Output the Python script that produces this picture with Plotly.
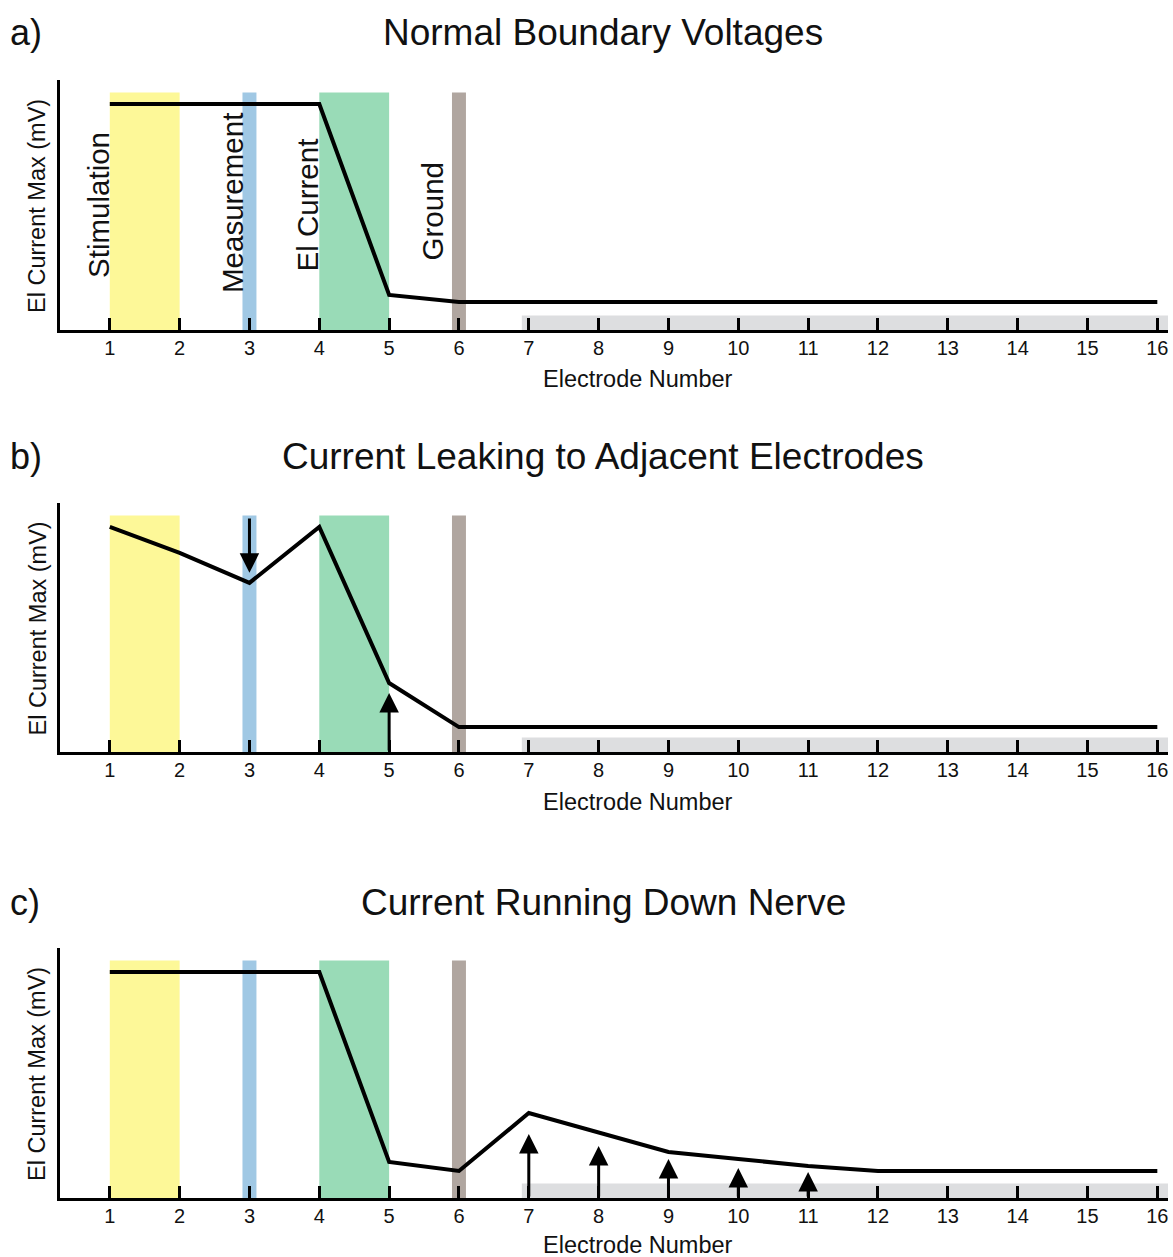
import plotly.graph_objects as go

# Electrode numbers along the cuff
electrodes = list(range(1, 17))
tick_labels = [str(e) for e in electrodes]

# Electrode roles
stim_electrodes = [1, 2]
meas_electrodes = [3]
ei_electrodes = [4, 5]
ground_electrodes = [6]
nerve_electrodes = [7, 16]

# Boundary voltage profiles (normalised to panel height)
normal_v = [0.904, 0.904, 0.904, 0.904, 0.14, 0.112, 0.112, 0.112,
            0.112, 0.112, 0.112, 0.112, 0.112, 0.112, 0.112, 0.112]
leak_v = [0.904, 0.80, 0.679, 0.904, 0.277, 0.10, 0.10, 0.10,
          0.10, 0.10, 0.10, 0.10, 0.10, 0.10, 0.10, 0.10]
nerve_v = [0.904, 0.904, 0.904, 0.904, 0.144, 0.108, 0.34, 0.264,
           0.184, 0.156, 0.128, 0.108, 0.108, 0.108, 0.108, 0.108]

# Arrow markers: (electrode, tail value, tip value)
leak_arrows_x = [3, 5]
leak_arrows_tail = [0.944, 0.0]
leak_arrows_tip = [0.72, 0.237]
nerve_arrows_x = [7, 8, 9, 10, 11]
nerve_arrows_tip = [0.256, 0.208, 0.156, 0.12, 0.104]

titles = ["Normal Boundary Voltages", "Current Leaking to Adjacent Electrodes",
          "Current Running Down Nerve"]
panel_tags = ["a)", "b)", "c)"]
role_labels = ["Stimulation", "Measurement", "El Current", "Ground"]
role_label_x = [0.83, 2.75, 3.83, 5.62]
role_label_y = [0.5, 0.508, 0.5, 0.476]

W, H = 1173, 1257
FONT = "Liberation Sans, Arial, sans-serif"
TXT = "#111111"

YELLOW = "rgb(253,248,152)"
BLUE = "rgb(160,200,228)"
GREEN = "rgb(153,219,183)"
TAUPE = "rgb(176,166,160)"
STRIP = "rgb(221,222,224)"


def px_x(px):
    return px / W


def px_y(py):
    return 1 - py / H


# pixel extents of each panel: (top, bottom)
panels = [(80, 330), (503, 752), (948, 1198)]
title_y = [33, 456, 902]
xtitle_y = [379, 802, 1245]
left_px, right_px = 60, 1168
x_range = [0.287, 16.153]

profiles = [normal_v, leak_v, nerve_v]

fig = go.Figure()
shapes = []
annotations = []
layout_axes = {}

for i, (top, bottom) in enumerate(panels):
    n = "" if i == 0 else str(i + 1)
    xa, ya = "x" + n, "y" + n
    layout_axes["xaxis" + n] = dict(
        domain=[px_x(left_px), px_x(right_px)], anchor=ya, range=x_range,
        tickmode="array", tickvals=electrodes, ticktext=tick_labels,
        ticks="inside", ticklen=12, tickwidth=3, tickcolor="black",
        showline=True, linewidth=3, linecolor="black",
        showgrid=False, zeroline=False, ticklabelstandoff=-2,
        tickfont=dict(family=FONT, size=20, color=TXT),
        fixedrange=True,
    )
    layout_axes["yaxis" + n] = dict(
        domain=[px_y(bottom), px_y(top)], anchor=xa, range=[0, 1],
        showline=True, linewidth=3, linecolor="black",
        showticklabels=False, ticks="", showgrid=False, zeroline=False,
        fixedrange=True,
    )

    fig.add_trace(go.Scatter(
        x=electrodes, y=profiles[i], mode="lines", xaxis=xa, yaxis=ya,
        line=dict(color="black", width=4), showlegend=False, hoverinfo="skip",
    ))

    # electrode role bands
    bands = [
        (stim_electrodes[0], stim_electrodes[-1], YELLOW),
        (meas_electrodes[0] - 0.1, meas_electrodes[0] + 0.1, BLUE),
        (ei_electrodes[0], ei_electrodes[-1], GREEN),
        (ground_electrodes[0] - 0.1, ground_electrodes[0] + 0.1, TAUPE),
    ]
    for x0, x1, col in bands:
        shapes.append(dict(type="rect", xref=xa, yref=ya, x0=x0, x1=x1,
                           y0=0, y1=0.95, fillcolor=col, line=dict(width=0),
                           layer="below"))
    shapes.append(dict(type="rect", xref=xa, yref=ya,
                       x0=nerve_electrodes[0] - 0.1, x1=x_range[1],
                       y0=0, y1=0.058, fillcolor=STRIP, line=dict(width=0),
                       layer="below"))

    annotations.append(dict(text=titles[i], xref="paper", yref="paper",
                            x=px_x(603), y=px_y(title_y[i]), showarrow=False,
                            xanchor="center", yanchor="middle",
                            font=dict(family=FONT, size=37, color=TXT)))
    annotations.append(dict(text=panel_tags[i], xref="paper", yref="paper",
                            x=px_x(8), y=px_y(title_y[i]), showarrow=False,
                            xanchor="left", yanchor="middle",
                            font=dict(family=FONT, size=36, color=TXT)))
    annotations.append(dict(text="Electrode Number", xref="paper", yref="paper",
                            x=px_x(638), y=px_y(xtitle_y[i]), showarrow=False,
                            xanchor="center", yanchor="middle",
                            font=dict(family=FONT, size=23.5, color=TXT)))
    annotations.append(dict(text="El Current Max (mV)", xref="paper",
                            yref="paper", x=px_x(37),
                            y=px_y((top + bottom) / 2 + 1), showarrow=False,
                            textangle=-90, xanchor="center", yanchor="middle",
                            font=dict(family=FONT, size=23.5, color=TXT)))

# role labels on the first panel
for lbl, lx, ly in zip(role_labels, role_label_x, role_label_y):
    annotations.append(dict(text=lbl, xref="x", yref="y", x=lx, y=ly,
                            showarrow=False, textangle=-90,
                            xanchor="center", yanchor="middle",
                            font=dict(family=FONT, size=29.5, color=TXT)))

arrow_style = dict(showarrow=True, arrowhead=2, arrowsize=1.3, arrowwidth=3,
                   arrowcolor="black", standoff=0, startstandoff=0, text="")

for ex, tail, tip in zip(leak_arrows_x, leak_arrows_tail, leak_arrows_tip):
    annotations.append(dict(xref="x2", yref="y2", axref="x2", ayref="y2",
                            x=ex, y=tip, ax=ex, ay=tail, **arrow_style))

for ex, tip in zip(nerve_arrows_x, nerve_arrows_tip):
    annotations.append(dict(xref="x3", yref="y3", axref="x3", ayref="y3",
                            x=ex, y=tip, ax=ex, ay=0.0, **arrow_style))

fig.update_layout(
    width=W, height=H, margin=dict(l=0, r=0, t=0, b=0),
    paper_bgcolor="white", plot_bgcolor="white",
    shapes=shapes, annotations=annotations, showlegend=False,
    **layout_axes,
)

fig.write_html("out.html", config={"displayModeBar": False})
